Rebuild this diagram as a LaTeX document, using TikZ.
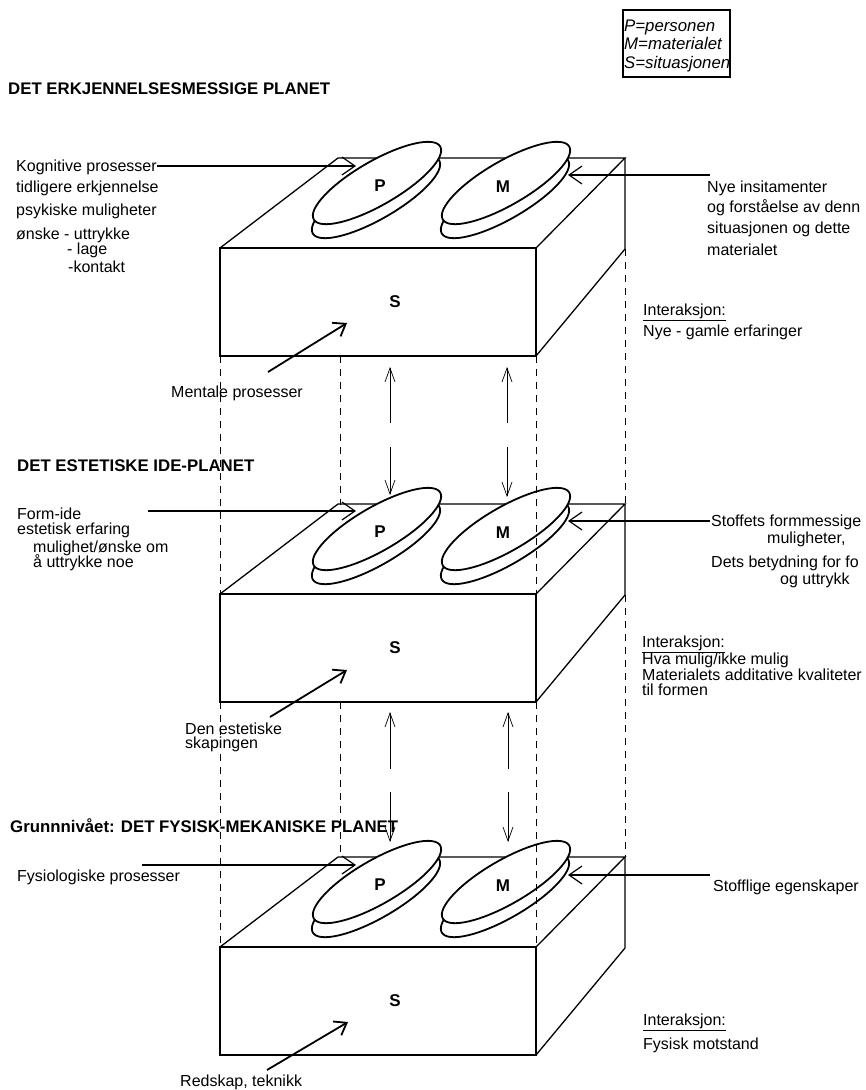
\documentclass[tikz,border=0pt]{standalone}
\usepackage{fontspec}
\setmainfont{Liberation Sans}
\usetikzlibrary{arrows.meta}
\tikzset{
 boxline/.style={line width=1.3pt, line join=miter},
 disc/.style={line width=1.8pt, fill=white, draw=black},
 hidden/.style={line width=0.9pt, dash pattern=on 7pt off 6pt},
 ptr/.style={line width=1.2pt, -{Straight Barb[length=13pt,width=18pt]}},
 sptr/.style={line width=1.8pt, -{Straight Barb[length=11pt,width=16pt]}},
 vptr/.style={line width=0.7pt, -{Straight Barb[length=14pt,width=10pt]}},
 txt/.style={font=\fontsize{16pt}{16pt}\selectfont, inner sep=0pt, anchor=base west},
 head/.style={font=\fontsize{16.8pt}{17pt}\selectfont\bfseries, inner sep=0pt, anchor=base west},
 lbl/.style={font=\fontsize{17pt}{17pt}\selectfont\bfseries, inner sep=0pt},
 legendtxt/.style={font=\fontsize{16.8pt}{18pt}\selectfont\itshape, inner sep=0pt, anchor=base west},
}
\newcommand\drawlevel[2]{%
 \coordinate (#1ftl) at (220,#2);
 \coordinate (#1ftr) at (536,#2);
 \coordinate (#1fbr) at (536,{#2+108});
 \coordinate (#1btl) at (338,{#2-90});
 \coordinate (#1btr) at (625,{#2-90});
 \coordinate (#1brb) at (625,{#2+1});
 \draw[boxline] (#1ftl) rectangle (#1fbr);
 \draw[boxline] (#1ftl) -- (#1btl) -- (#1btr) -- (#1ftr);
 \draw[boxline] (#1btr) -- (#1brb) -- (#1fbr);
 \draw[disc] (376,{#2-51}) circle[x radius=73pt, y radius=22pt, rotate=30];
 \draw[disc] (377,{#2-65}) circle[x radius=73pt, y radius=22pt, rotate=30];
 \draw[disc] (505,{#2-51}) circle[x radius=73pt, y radius=22pt, rotate=30];
 \draw[disc] (506,{#2-65}) circle[x radius=73pt, y radius=22pt, rotate=30];
 \node[lbl] (#1P) at (380,{#2-62}) {P};
 \node[lbl] (#1M) at (503,{#2-61}) {M};
 \node[lbl] (#1S) at (395,{#2+54}) {S};
}
\begin{document}
\begin{tikzpicture}[x=1pt,y=-1pt]
\useasboundingbox (0,0) rectangle (866,1090);
\fill[white] (0,0) rectangle (866,1090);
\clip (0,0) rectangle (866,1090);

% legend
\begin{scope}
\clip (623,10) rectangle (729,77);
\node[legendtxt] (lgP) at (624,31) {P=personen};
\node[legendtxt] (lgM) at (624,49) {M=materialet};
\node[legendtxt] (lgS) at (624,68) {S=situasjonen};
\end{scope}
\draw[line width=1.5pt] (623,10) rectangle (730,77);

% levels
\drawlevel{T}{248}
\drawlevel{E}{594}
\drawlevel{F}{947}

% hidden vertical lines
\draw[hidden] (220,356) -- (Eftl);
\draw[hidden] (220,702) -- (Fftl);
\draw[hidden] (340,356) -- (340,505);
\draw[hidden] (340,702) -- (340,857);
\draw[hidden] (Tfbr) -- (Eftr);
\draw[hidden] (Efbr) -- (Fftr);
\draw[hidden] (Tbrb) -- (Ebtr);
\draw[hidden] (Ebrb) -- (Fbtr);

% vertical interaction arrows
\coordinate (a1s) at (390,423); \coordinate (a1e) at (390,367);
\coordinate (a2s) at (390,447); \coordinate (a2e) at (390,495);
\coordinate (a3s) at (507,423); \coordinate (a3e) at (507,367);
\coordinate (a4s) at (507,447); \coordinate (a4e) at (507,497);
\coordinate (b1s) at (390,769); \coordinate (b1e) at (390,712);
\coordinate (b2s) at (390,792); \coordinate (b2e) at (390,842);
\coordinate (b3s) at (508,769); \coordinate (b3e) at (508,712);
\coordinate (b4s) at (508,792); \coordinate (b4e) at (508,842);
\foreach \n in {a1,a2,a3,a4,b1,b2,b3,b4}{\draw[vptr] (\n s) -- (\n e);}

% pointers to P and M
\coordinate (kT) at (157,166); \coordinate (kH) at (356,166);
\coordinate (nT) at (710,175); \coordinate (nH) at (568,175);
\coordinate (fT) at (148,511); \coordinate (fH) at (356,511);
\coordinate (sT) at (710,521); \coordinate (sH) at (568,521);
\coordinate (yT) at (142,865); \coordinate (yH) at (356,865);
\coordinate (eT) at (710,875); \coordinate (eH) at (568,875);
\draw[ptr] (kT) -- (kH);
\draw[ptr] (nT) -- (nH);
\draw[ptr] (fT) -- (fH);
\draw[ptr] (sT) -- (sH);
\draw[ptr] (yT) -- (yH);
\draw[ptr] (eT) -- (eH);

% pointers into S
\coordinate (mT) at (268,372); \coordinate (mH) at (347,323);
\coordinate (dT) at (270,717); \coordinate (dH) at (347,670);
\coordinate (rT) at (267,1070); \coordinate (rH) at (348,1022);
\draw[sptr] (mT) -- (mH);
\draw[sptr] (dT) -- (dH);
\draw[sptr] (rT) -- (rH);

% headings
\node[head] (h1) at (8,94) {DET ERKJENNELSESMESSIGE PLANET};
\node[head] (h2) at (17,471) {DET ESTETISKE IDE-PLANET};
\node[head] (h3) at (10,832) {Grunnnivået: DET FYSISK-MEKANISKE PLANET};

% top left texts
\node[txt] (t1) at (16,171) {Kognitive prosesser};
\node[txt] (t2) at (16,192) {tidligere erkjennelse};
\node[txt] (t3) at (16,215) {psykiske muligheter};
\node[txt] (t4) at (16,239) {ønske - uttrykke};
\node[txt] (t5) at (67,254) {- lage};
\node[txt] (t6) at (68,272) {-kontakt};

% top right texts
\node[txt] (r1) at (707,192) {Nye insitamenter};
\node[txt] (r2) at (707,212) {og forståelse av denn};
\node[txt] (r3) at (707,233) {situasjonen og dette};
\node[txt] (r4) at (707,255) {materialet};
\node[txt] (r5) at (643,315) {\underline{Interaksjon:}};
\node[txt] (r6) at (643,336) {Nye - gamle erfaringer};
\node[txt] (mp) at (171,397) {Mentale prosesser};

% middle texts
\node[txt] (m1) at (17,519) {Form-ide};
\node[txt] (m2) at (17,534) {estetisk erfaring};
\node[txt] (m3) at (33,552) {mulighet/ønske om};
\node[txt] (m4) at (33,567) {å uttrykke noe};
\node[txt] (q1) at (711,526) {Stoffets formmessige};
\node[txt] (q2) at (767,543) {muligheter,};
\node[txt] (q3) at (711,567) {Dets betydning for fo};
\node[txt] (q4) at (780,584) {og uttrykk};
\node[txt] (q5) at (642,647) {\underline{Interaksjon:}};
\node[txt] (q6) at (642,664) {Hva mulig/ikke mulig};
\node[txt] (q7) at (642,680) {Materialets additative kvaliteter};
\node[txt] (q8) at (642,695) {til formen};
\node[txt] (de1) at (185,734) {Den estetiske};
\node[txt] (de2) at (185,748) {skapingen};

% bottom texts
\node[txt] (b1) at (17,881) {Fysiologiske prosesser};
\node[txt] (b2) at (713,891) {Stofflige egenskaper};
\node[txt] (b3) at (643,1025) {\underline{Interaksjon:}};
\node[txt] (b4) at (643,1049) {Fysisk motstand};
\node[txt] (b5) at (180,1086) {Redskap, teknikk};
\end{tikzpicture}
\end{document}
